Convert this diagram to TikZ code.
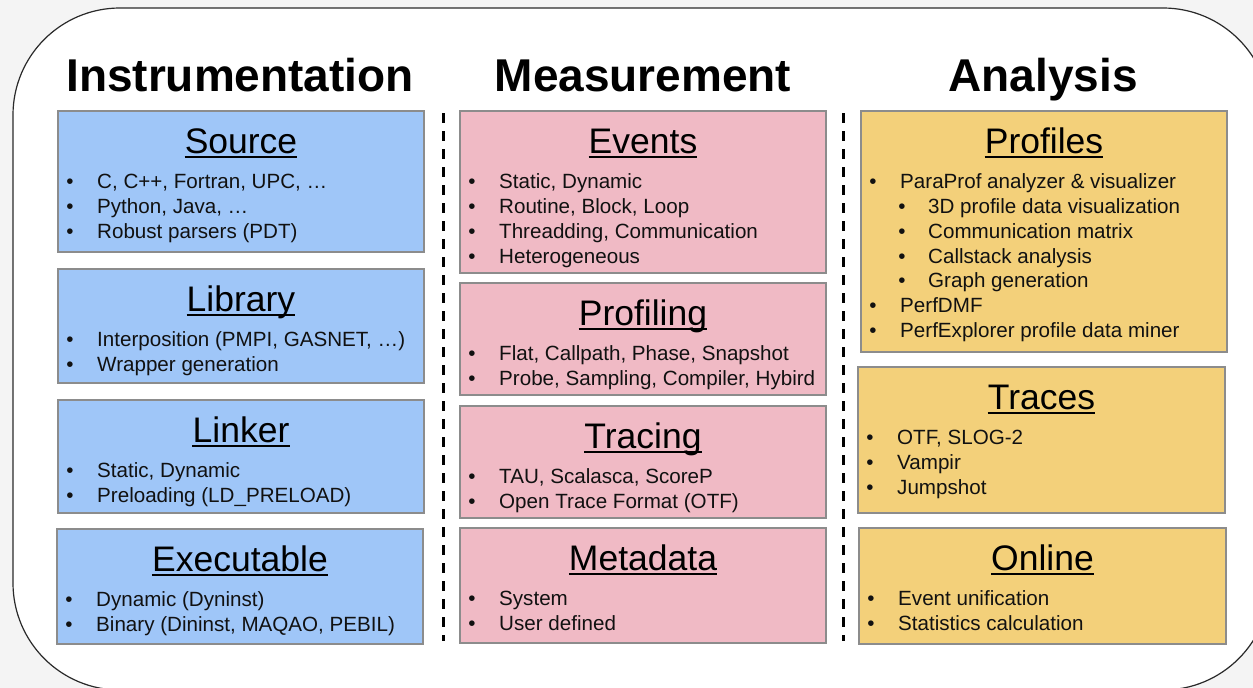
\documentclass[tikz,border=0pt]{standalone}
\usepackage{fontspec}
\setmainfont{Liberation Sans}
\usetikzlibrary{fit}
\definecolor{bggray}{HTML}{F4F4F4}
\definecolor{frame}{HTML}{2A2A2A}
\definecolor{boxedge}{HTML}{8C8C8C}
\definecolor{cblue}{HTML}{9FC6F8}
\definecolor{cpink}{HTML}{F0BAC5}
\definecolor{cyell}{HTML}{F3D07A}
\definecolor{ink}{HTML}{111111}
\tikzset{
  panel/.style={draw=boxedge, line width=1.1pt, inner sep=0pt, outer sep=0pt},
  hdr/.style={font=\fontsize{46}{50}\selectfont\bfseries, anchor=base, inner sep=0pt, text=black},
  ttl/.style={font=\fontsize{35.5}{40}\selectfont, anchor=base, inner sep=0pt, text=black},
  itm/.style={font=\fontsize{20.6}{24}\selectfont, anchor=base west, inner sep=0pt, text=ink},
  bul/.style={font=\fontsize{20.6}{24}\selectfont, anchor=base, inner sep=0pt, text=ink},
  uline/.style={line width=2pt, black},
  sepline/.style={line width=3pt, dash pattern=on 10pt off 8pt, black},
}
\newcommand\mkpanel[7]{%
  \path (#3,#4) coordinate (#1nw) (#5,#6) coordinate (#1se);
  \node[panel, fill=#2, fit=(#1nw)(#1se)] (#1) {};
  \node[ttl] (#1t) at ([yshift=-42.5pt]#1.north) {#7};
  \draw[uline] ([yshift=-3.5pt]#1t.base west) -- ([yshift=-3.5pt]#1t.base east);
}
\newcommand\itm[3]{%
  \node[bul] (#1b#2) at ([xshift=12pt, yshift={-(77.3+24.9*#2)*1pt}]#1.north west) {•};
  \node[itm] (#1x#2) at ([xshift=39pt, yshift={-(77.3+24.9*#2)*1pt}]#1.north west) {#3};
}
\newcommand\sitm[3]{%
  \node[bul] (#1b#2) at ([xshift=41pt, yshift={-(77.3+24.9*#2)*1pt}]#1.north west) {•};
  \node[itm] (#1x#2) at ([xshift=67pt, yshift={-(77.3+24.9*#2)*1pt}]#1.north west) {#3};
}
\begin{document}
\begin{tikzpicture}[x=1pt, y=-1pt]
  \useasboundingbox (0,0) rectangle (1253,688);
  \clip (0,0) rectangle (1253,688);
  \fill[bggray] (0,0) rectangle (1253,688);
  \draw[frame, line width=1.2pt, fill=white, rounded corners=107pt] (13,8) rectangle (1270,690);

  % headers
  \node[hdr] (hInst) at (240,91) {Instrumentation};
  \node[hdr] (hMeas) at (643,91) {Measurement};
  \node[hdr] (hAna) at (1043,91) {Analysis};

  % separators
  \draw[sepline] (443,113) -- (443,641);
  \draw[sepline] (843,113) -- (843,641);

  % Instrumentation
  \mkpanel{src}{cblue}{58}{111}{424}{252}{Source}
  \itm{src}{0}{C, C++, Fortran, UPC, …}
  \itm{src}{1}{Python, Java, …}
  \itm{src}{2}{Robust parsers (PDT)}

  \mkpanel{lib}{cblue}{58}{269}{424}{383}{Library}
  \itm{lib}{0}{Interposition (PMPI, GASNET, …)}
  \itm{lib}{1}{Wrapper generation}

  \mkpanel{lnk}{cblue}{58}{400}{424}{513}{Linker}
  \itm{lnk}{0}{Static, Dynamic}
  \itm{lnk}{1}{Preloading (LD\_PRELOAD)}

  \mkpanel{exe}{cblue}{57}{529}{423}{644}{Executable}
  \itm{exe}{0}{Dynamic (Dyninst)}
  \itm{exe}{1}{Binary (Dininst, MAQAO, PEBIL)}

  % Measurement
  \mkpanel{evt}{cpink}{460}{111}{826}{273}{Events}
  \itm{evt}{0}{Static, Dynamic}
  \itm{evt}{1}{Routine, Block, Loop}
  \itm{evt}{2}{Threadding, Communication}
  \itm{evt}{3}{Heterogeneous}

  \mkpanel{prf}{cpink}{460}{283}{826}{395}{Profiling}
  \itm{prf}{0}{Flat, Callpath, Phase, Snapshot}
  \itm{prf}{1}{Probe, Sampling, Compiler, Hybird}

  \mkpanel{trc}{cpink}{460}{406}{826}{518}{Tracing}
  \itm{trc}{0}{TAU, Scalasca, ScoreP}
  \itm{trc}{1}{Open Trace Format (OTF)}

  \mkpanel{meta}{cpink}{460}{528}{826}{643}{Metadata}
  \itm{meta}{0}{System}
  \itm{meta}{1}{User defined}

  % Analysis
  \mkpanel{pfl}{cyell}{861}{111}{1227}{352}{Profiles}
  \itm{pfl}{0}{ParaProf analyzer \& visualizer}
  \sitm{pfl}{1}{3D profile data visualization}
  \sitm{pfl}{2}{Communication matrix}
  \sitm{pfl}{3}{Callstack analysis}
  \sitm{pfl}{4}{Graph generation}
  \itm{pfl}{5}{PerfDMF}
  \itm{pfl}{6}{PerfExplorer profile data miner}

  \mkpanel{trs}{cyell}{858}{367}{1225}{513}{Traces}
  \itm{trs}{0}{OTF, SLOG-2}
  \itm{trs}{1}{Vampir}
  \itm{trs}{2}{Jumpshot}

  \mkpanel{onl}{cyell}{859}{528}{1226}{644}{Online}
  \itm{onl}{0}{Event unification}
  \itm{onl}{1}{Statistics calculation}
\end{tikzpicture}
\end{document}
